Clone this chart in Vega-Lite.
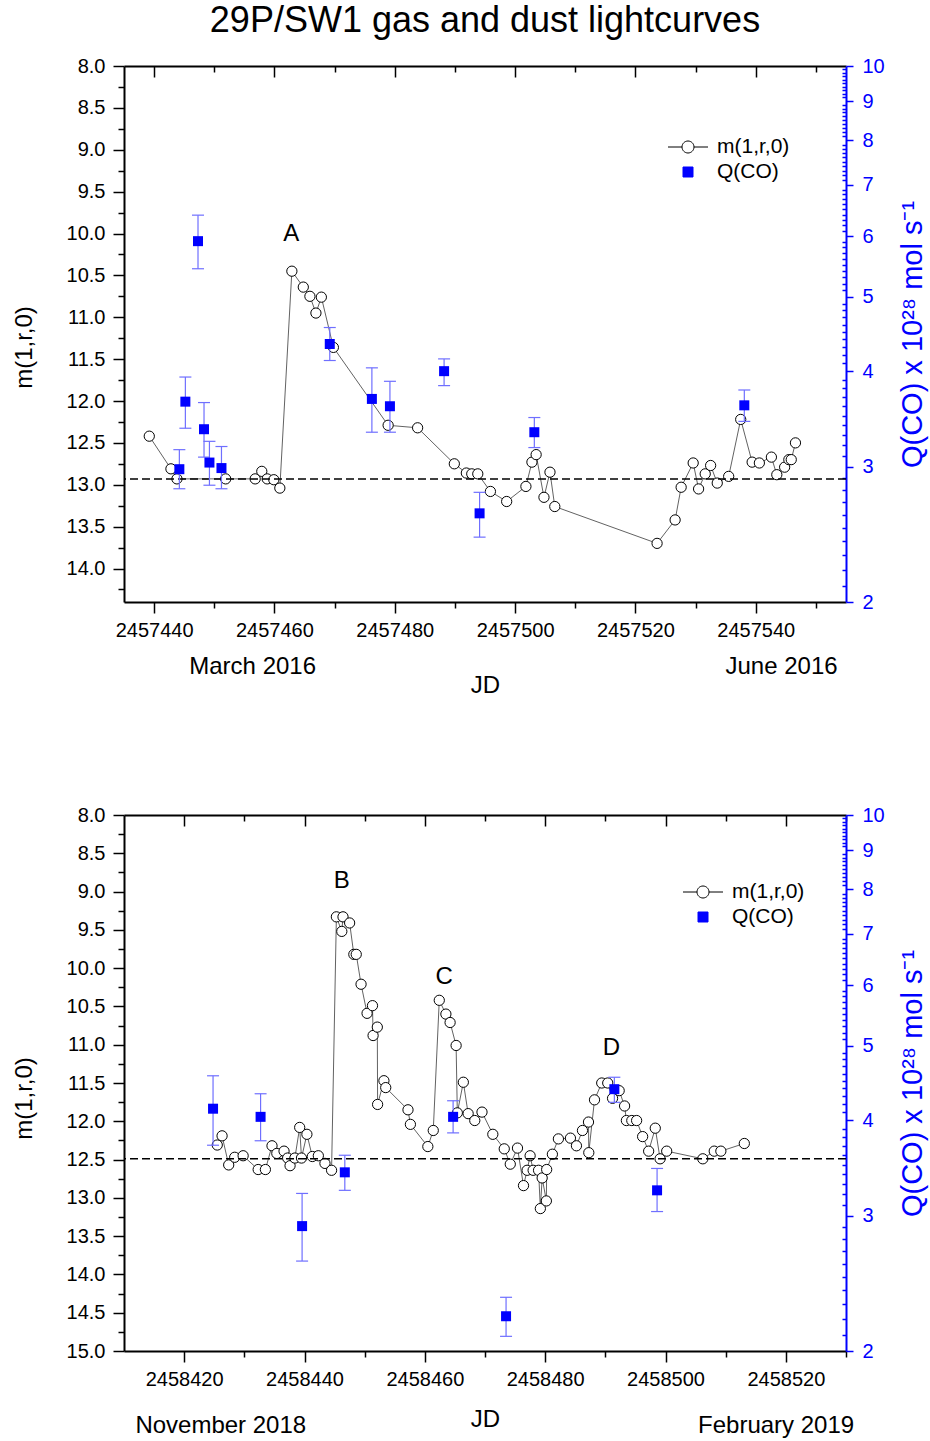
{
  "$schema": "https://vega.github.io/schema/vega-lite/v6.json",
  "padding": {"left": 12, "top": 3, "right": 5, "bottom": 5},
  "title": {"text": "29P/SW1 gas and dust lightcurves", "fontSize": 36, "font": "Liberation Sans", "fontWeight": "normal", "anchor": "middle", "frame": "group", "offset": 16, "color": "black"},
  "datasets": {
    "m1": [
      {"jd": 2457439.2, "m": 12.42}, {"jd": 2457442.8, "m": 12.81}, {"jd": 2457443.8, "m": 12.93}, {"jd": 2457451.9, "m": 12.93},
      {"jd": 2457456.8, "m": 12.93}, {"jd": 2457457.9, "m": 12.84}, {"jd": 2457458.8, "m": 12.93}, {"jd": 2457459.9, "m": 12.94},
      {"jd": 2457460.9, "m": 13.04}, {"jd": 2457462.9, "m": 10.45}, {"jd": 2457464.8, "m": 10.64}, {"jd": 2457465.9, "m": 10.75},
      {"jd": 2457466.9, "m": 10.95}, {"jd": 2457467.8, "m": 10.76}, {"jd": 2457469.8, "m": 11.36}, {"jd": 2457478.9, "m": 12.29},
      {"jd": 2457483.8, "m": 12.32}, {"jd": 2457489.9, "m": 12.75}, {"jd": 2457491.9, "m": 12.86}, {"jd": 2457492.8, "m": 12.87},
      {"jd": 2457493.8, "m": 12.87}, {"jd": 2457495.9, "m": 13.08}, {"jd": 2457498.6, "m": 13.2}, {"jd": 2457501.8, "m": 13.02},
      {"jd": 2457502.8, "m": 12.73}, {"jd": 2457503.5, "m": 12.64}, {"jd": 2457504.8, "m": 13.15}, {"jd": 2457505.8, "m": 12.85},
      {"jd": 2457506.6, "m": 13.26}, {"jd": 2457523.6, "m": 13.7}, {"jd": 2457526.6, "m": 13.42}, {"jd": 2457527.6, "m": 13.03},
      {"jd": 2457529.6, "m": 12.74}, {"jd": 2457530.5, "m": 13.05}, {"jd": 2457531.6, "m": 12.87}, {"jd": 2457532.5, "m": 12.77},
      {"jd": 2457533.6, "m": 12.98}, {"jd": 2457535.5, "m": 12.9}, {"jd": 2457537.5, "m": 12.22}, {"jd": 2457539.4, "m": 12.73},
      {"jd": 2457540.6, "m": 12.74}, {"jd": 2457542.6, "m": 12.67}, {"jd": 2457543.5, "m": 12.88}, {"jd": 2457544.8, "m": 12.79},
      {"jd": 2457545.5, "m": 12.7}, {"jd": 2457545.9, "m": 12.7}, {"jd": 2457546.6, "m": 12.5}
    ],
    "q1": [
      {"jd": 2457444.2, "q": 2.98, "lo": 2.81, "hi": 3.16}, {"jd": 2457445.2, "q": 3.65, "lo": 3.37, "hi": 3.93},
      {"jd": 2457447.3, "q": 5.91, "lo": 5.44, "hi": 6.39}, {"jd": 2457448.3, "q": 3.36, "lo": 3.09, "hi": 3.64},
      {"jd": 2457449.2, "q": 3.04, "lo": 2.84, "hi": 3.24}, {"jd": 2457451.2, "q": 2.99, "lo": 2.81, "hi": 3.19},
      {"jd": 2457469.2, "q": 4.34, "lo": 4.13, "hi": 4.56}, {"jd": 2457476.2, "q": 3.68, "lo": 3.33, "hi": 4.04},
      {"jd": 2457479.2, "q": 3.6, "lo": 3.33, "hi": 3.88}, {"jd": 2457488.2, "q": 4.0, "lo": 3.83, "hi": 4.15},
      {"jd": 2457494.1, "q": 2.61, "lo": 2.43, "hi": 2.78}, {"jd": 2457503.2, "q": 3.33, "lo": 3.18, "hi": 3.48},
      {"jd": 2457538.1, "q": 3.61, "lo": 3.44, "hi": 3.78}
    ],
    "lab1": [{"jd": 2457462.8, "m": 10.0, "label": "A"}],
    "mon1": [{"jd": 2457456.3}, {"jd": 2457544.2}],
    "m2": [
      {"jd": 2458425.5, "m": 12.31}, {"jd": 2458426.3, "m": 12.19}, {"jd": 2458427.4, "m": 12.57}, {"jd": 2458428.4, "m": 12.47},
      {"jd": 2458429.8, "m": 12.45}, {"jd": 2458432.3, "m": 12.63}, {"jd": 2458433.5, "m": 12.63}, {"jd": 2458434.6, "m": 12.32},
      {"jd": 2458435.4, "m": 12.42}, {"jd": 2458436.6, "m": 12.39}, {"jd": 2458437.2, "m": 12.48}, {"jd": 2458437.6, "m": 12.58},
      {"jd": 2458438.4, "m": 12.48}, {"jd": 2458439.2, "m": 12.08}, {"jd": 2458439.5, "m": 12.48}, {"jd": 2458440.4, "m": 12.17},
      {"jd": 2458441.3, "m": 12.46}, {"jd": 2458442.3, "m": 12.45}, {"jd": 2458443.4, "m": 12.55}, {"jd": 2458444.5, "m": 12.64},
      {"jd": 2458445.3, "m": 9.33}, {"jd": 2458446.2, "m": 9.52}, {"jd": 2458446.4, "m": 9.33}, {"jd": 2458447.5, "m": 9.41},
      {"jd": 2458448.2, "m": 9.82}, {"jd": 2458448.6, "m": 9.82}, {"jd": 2458449.4, "m": 10.21}, {"jd": 2458450.4, "m": 10.59},
      {"jd": 2458451.3, "m": 10.49}, {"jd": 2458451.4, "m": 10.88}, {"jd": 2458452.1, "m": 10.77}, {"jd": 2458452.15, "m": 11.78},
      {"jd": 2458453.2, "m": 11.47}, {"jd": 2458453.5, "m": 11.56}, {"jd": 2458457.2, "m": 11.85}, {"jd": 2458457.6, "m": 12.04},
      {"jd": 2458460.5, "m": 12.33}, {"jd": 2458461.4, "m": 12.12}, {"jd": 2458462.4, "m": 10.42}, {"jd": 2458463.5, "m": 10.6},
      {"jd": 2458464.2, "m": 10.71}, {"jd": 2458465.2, "m": 11.01}, {"jd": 2458465.4, "m": 11.89}, {"jd": 2458466.4, "m": 11.49},
      {"jd": 2458467.2, "m": 11.9}, {"jd": 2458468.3, "m": 11.99}, {"jd": 2458469.5, "m": 11.88}, {"jd": 2458471.3, "m": 12.17},
      {"jd": 2458473.2, "m": 12.36}, {"jd": 2458474.2, "m": 12.56}, {"jd": 2458475.4, "m": 12.35}, {"jd": 2458476.4, "m": 12.84},
      {"jd": 2458477.0, "m": 12.64}, {"jd": 2458477.5, "m": 12.45}, {"jd": 2458478.0, "m": 12.64}, {"jd": 2458478.9, "m": 12.64},
      {"jd": 2458479.2, "m": 13.14}, {"jd": 2458479.5, "m": 12.74}, {"jd": 2458480.2, "m": 13.04}, {"jd": 2458480.25, "m": 12.63},
      {"jd": 2458481.2, "m": 12.43}, {"jd": 2458482.2, "m": 12.23}, {"jd": 2458484.2, "m": 12.22}, {"jd": 2458485.2, "m": 12.32},
      {"jd": 2458486.2, "m": 12.12}, {"jd": 2458487.2, "m": 12.01}, {"jd": 2458487.25, "m": 12.41}, {"jd": 2458488.2, "m": 11.72},
      {"jd": 2458489.4, "m": 11.5}, {"jd": 2458490.4, "m": 11.5}, {"jd": 2458491.2, "m": 11.7}, {"jd": 2458492.3, "m": 11.6},
      {"jd": 2458493.2, "m": 11.8}, {"jd": 2458493.5, "m": 11.99}, {"jd": 2458494.4, "m": 11.99}, {"jd": 2458495.2, "m": 11.99},
      {"jd": 2458496.2, "m": 12.2}, {"jd": 2458497.2, "m": 12.39}, {"jd": 2458498.3, "m": 12.09}, {"jd": 2458499.1, "m": 12.49},
      {"jd": 2458500.2, "m": 12.39}, {"jd": 2458506.2, "m": 12.49}, {"jd": 2458508.1, "m": 12.39}, {"jd": 2458509.2, "m": 12.39},
      {"jd": 2458513.1, "m": 12.29}
    ],
    "q2": [
      {"jd": 2458424.8, "q": 4.14, "lo": 3.71, "hi": 4.57}, {"jd": 2458432.7, "q": 4.04, "lo": 3.76, "hi": 4.33},
      {"jd": 2458439.6, "q": 2.91, "lo": 2.62, "hi": 3.21}, {"jd": 2458446.7, "q": 3.42, "lo": 3.24, "hi": 3.6},
      {"jd": 2458464.7, "q": 4.04, "lo": 3.85, "hi": 4.24}, {"jd": 2458473.5, "q": 2.22, "lo": 2.09, "hi": 2.35},
      {"jd": 2458491.5, "q": 4.39, "lo": 4.22, "hi": 4.55}, {"jd": 2458498.6, "q": 3.24, "lo": 3.04, "hi": 3.46}
    ],
    "lab2": [{"jd": 2458446.2, "m": 8.86, "label": "B"}, {"jd": 2458463.2, "m": 10.12, "label": "C"}, {"jd": 2458491.0, "m": 11.04, "label": "D"}],
    "mon2": [{"jd": 2458426}, {"jd": 2458518.3}],
    "leg": [{"s": "m(1,r,0)"}, {"s": "Q(CO)"}]
  },
  "vconcat": [
    {
      "width": 722, "height": 536,
      "resolve": {"scale": {"y": "independent"}, "axis": {"x": "independent", "y": "independent"}},
      "layer": [
        {
          "data": {"name": "m1"},
          "resolve": {"axis": {"x": "independent", "y": "independent"}},
          "layer": [
            {"mark": {"type": "line", "color": "#3a3a3a", "strokeWidth": 0.8},
             "encoding": {
               "x": {"field": "jd", "type": "quantitative", "scale": {"domain": [2457435, 2457555], "nice": false, "zero": false},
                     "axis": {"orient": "bottom", "values": [2457440, 2457460, 2457480, 2457500, 2457520, 2457540],
                              "format": "d", "tickSize": 11, "labelPadding": 7, "labelFlush": false, "labelOverlap": false, "title": "JD", "titlePadding": 33}},
               "y": {"field": "m", "type": "quantitative", "scale": {"domain": [8, 14.4], "reverse": true, "nice": false, "zero": false},
                     "axis": {"orient": "left", "values": [8, 8.5, 9, 9.5, 10, 10.5, 11, 11.5, 12, 12.5, 13, 13.5, 14],
                              "format": ".1f", "tickSize": 11, "labelPadding": 8, "labelFlush": false, "labelOverlap": false,
                              "title": "m(1,r,0)", "titlePadding": 30, "titleY": 281}}}},
            {"mark": {"type": "point", "shape": "circle", "filled": true, "fill": "white", "stroke": "black", "strokeWidth": 1, "size": 105, "opacity": 1},
             "encoding": {"x": {"field": "jd", "type": "quantitative", "axis": null}, "y": {"field": "m", "type": "quantitative", "axis": null}}},
            {"data": {"values": [{}]}, "mark": {"type": "rule", "color": "black", "strokeWidth": 1.5, "strokeDash": [8, 4]},
             "encoding": {"y": {"datum": 12.93, "type": "quantitative", "axis": null}}},
            {"data": {"name": "lab1"}, "mark": {"type": "text", "fontSize": 24, "font": "Liberation Sans", "color": "black"},
             "encoding": {
               "x": {"field": "jd", "type": "quantitative",
                     "axis": {"orient": "bottom", "values": [2457450, 2457470, 2457490, 2457510, 2457530, 2457550], "labels": false, "domain": false, "tickSize": 6, "title": null}},
               "y": {"field": "m", "type": "quantitative",
                     "axis": {"orient": "left", "values": [8.25, 8.75, 9.25, 9.75, 10.25, 10.75, 11.25, 11.75, 12.25, 12.75, 13.25, 13.75, 14.25], "labels": false, "domain": false, "tickSize": 6, "title": null}},
               "text": {"field": "label"}}}
          ]
        },
        {
          "data": {"name": "q1"},
          "resolve": {"axis": {"x": "independent", "y": "independent"}},
          "layer": [
            {"mark": {"type": "rule", "color": "#6f6fff", "strokeWidth": 1.2},
             "encoding": {
               "x": {"field": "jd", "type": "quantitative",
                     "axis": {"orient": "top", "values": [2457440, 2457450, 2457460, 2457470, 2457480, 2457490, 2457500, 2457510, 2457520, 2457530, 2457540, 2457550],
                              "labels": false, "title": null, "tickSize": {"condition": {"test": "datum.value % 20 === 0", "value": -11}, "value": -6}}},
               "y": {"field": "lo", "type": "quantitative", "scale": {"type": "log", "domain": [2, 10], "nice": false},
                     "axis": {"orient": "right", "values": [2, 3, 4, 5, 6, 7, 8, 9, 10], "format": "d", "tickSize": 7,
                              "labelColor": "#0000ff", "tickColor": "#0000ff", "domainColor": "#0000ff", "titleColor": "#0000ff",
                              "labelPadding": 9, "labelFlush": false, "labelOverlap": false,
                              "title": "Q(CO) x 10²⁸ mol s⁻¹", "titleFontSize": 29, "titleAngle": 270, "titleBaseline": "top", "titlePadding": 14}},
               "y2": {"field": "hi"}}},
            {"mark": {"type": "tick", "orient": "horizontal", "color": "#6f6fff", "size": 12, "thickness": 1.2, "opacity": 1},
             "encoding": {"x": {"field": "jd", "type": "quantitative", "axis": null},
                          "y": {"field": "lo", "type": "quantitative",
                                "axis": {"orient": "right", "values": [2.1,2.2,2.3,2.4,2.5,2.6,2.7,2.8,2.9,3.1,3.2,3.3,3.4,3.5,3.6,3.7,3.8,3.9,4.1,4.2,4.3,4.4,4.5,4.6,4.7,4.8,4.9,5.1,5.2,5.3,5.4,5.5,5.6,5.7,5.8,5.9,6.1,6.2,6.3,6.4,6.5,6.6,6.7,6.8,6.9,7.1,7.2,7.3,7.4,7.5,7.6,7.7,7.8,7.9,8.1,8.2,8.3,8.4,8.5,8.6,8.7,8.8,8.9,9.1,9.2,9.3,9.4,9.5,9.6,9.7,9.8,9.9],
                                         "labels": false, "domain": false, "tickSize": -4, "tickColor": "#0000ff", "title": null}}}},
            {"mark": {"type": "tick", "orient": "horizontal", "color": "#6f6fff", "size": 12, "thickness": 1.2, "opacity": 1},
             "encoding": {"x": {"field": "jd", "type": "quantitative", "axis": null}, "y": {"field": "hi", "type": "quantitative", "axis": null}}},
            {"mark": {"type": "square", "color": "#0000ff", "filled": true, "size": 100, "opacity": 1},
             "encoding": {"x": {"field": "jd", "type": "quantitative", "axis": null}, "y": {"field": "q", "type": "quantitative", "axis": null}}}
          ]
        },
        {
          "data": {"name": "mon1"},
          "mark": {"type": "point", "opacity": 0},
          "encoding": {"x": {"field": "jd", "type": "quantitative",
                             "axis": {"orient": "bottom", "values": [2457456.3, 2457544.2], "labelExpr": "datum.value < 2457500 ? 'March 2016' : 'June 2016'",
                                      "domain": false, "ticks": false, "labelFontSize": 24, "labelPadding": 52, "title": null, "labelFlush": false, "labelOverlap": false}}}
        },
        {
          "data": {"name": "leg"},
          "mark": {"type": "point", "opacity": 0, "filled": true},
          "encoding": {
            "shape": {"field": "s", "type": "nominal",
              "scale": {"domain": ["m(1,r,0)", "Q(CO)"], "range": ["M-1.6,0L-0.48,0M0.48,0A0.48,0.48,0,1,1,-0.48,0A0.48,0.48,0,1,1,0.48,0M0.48,0L1.6,0", "M-0.4,-0.4L0.4,-0.4L0.4,0.4L-0.4,0.4Z"]},
              "legend": {"orient": "none", "legendX": 551, "legendY": 68, "title": null, "symbolSize": 625, "labelFontSize": 21, "labelOffset": 16, "rowPadding": 2, "symbolStrokeWidth": 1, "symbolOpacity": 1}},
            "fill": {"field": "s", "type": "nominal", "scale": {"domain": ["m(1,r,0)", "Q(CO)"], "range": ["white", "#0000ff"]},
              "legend": {"orient": "none", "legendX": 551, "legendY": 68, "title": null, "symbolSize": 625, "labelFontSize": 21, "labelOffset": 16, "rowPadding": 2, "symbolStrokeWidth": 1, "symbolOpacity": 1}},
            "stroke": {"field": "s", "type": "nominal", "scale": {"domain": ["m(1,r,0)", "Q(CO)"], "range": ["black", "#0000ff"]},
              "legend": {"orient": "none", "legendX": 551, "legendY": 68, "title": null, "symbolSize": 625, "labelFontSize": 21, "labelOffset": 16, "rowPadding": 2, "symbolStrokeWidth": 1, "symbolOpacity": 1}}
          }
        }
      ]
    },
    {
      "width": 722, "height": 536,
      "resolve": {"scale": {"y": "independent"}, "axis": {"x": "independent", "y": "independent"}},
      "layer": [
        {
          "data": {"name": "m2"},
          "resolve": {"axis": {"x": "independent", "y": "independent"}},
          "layer": [
            {"mark": {"type": "line", "color": "#3a3a3a", "strokeWidth": 0.8},
             "encoding": {
               "x": {"field": "jd", "type": "quantitative", "scale": {"domain": [2458410, 2458530], "nice": false, "zero": false},
                     "axis": {"orient": "bottom", "values": [2458420, 2458440, 2458460, 2458480, 2458500, 2458520],
                              "format": "d", "tickSize": 11, "labelPadding": 7, "labelFlush": false, "labelOverlap": false, "title": "JD", "titlePadding": 18}},
               "y": {"field": "m", "type": "quantitative", "scale": {"domain": [8, 15], "reverse": true, "nice": false, "zero": false},
                     "axis": {"orient": "left", "values": [8, 8.5, 9, 9.5, 10, 10.5, 11, 11.5, 12, 12.5, 13, 13.5, 14, 14.5, 15],
                              "format": ".1f", "tickSize": 11, "labelPadding": 8, "labelFlush": false, "labelOverlap": false,
                              "title": "m(1,r,0)", "titlePadding": 30, "titleY": 283}}}},
            {"mark": {"type": "point", "shape": "circle", "filled": true, "fill": "white", "stroke": "black", "strokeWidth": 1, "size": 105, "opacity": 1},
             "encoding": {"x": {"field": "jd", "type": "quantitative", "axis": null}, "y": {"field": "m", "type": "quantitative", "axis": null}}},
            {"data": {"values": [{}]}, "mark": {"type": "rule", "color": "black", "strokeWidth": 1.5, "strokeDash": [8, 4]},
             "encoding": {"y": {"datum": 12.49, "type": "quantitative", "axis": null}}},
            {"data": {"name": "lab2"}, "mark": {"type": "text", "fontSize": 24, "font": "Liberation Sans", "color": "black"},
             "encoding": {
               "x": {"field": "jd", "type": "quantitative",
                     "axis": {"orient": "bottom", "values": [2458430, 2458450, 2458470, 2458490, 2458510, 2458530], "labels": false, "domain": false, "tickSize": 6, "title": null}},
               "y": {"field": "m", "type": "quantitative",
                     "axis": {"orient": "left", "values": [8.25, 8.75, 9.25, 9.75, 10.25, 10.75, 11.25, 11.75, 12.25, 12.75, 13.25, 13.75, 14.25, 14.75], "labels": false, "domain": false, "tickSize": 6, "title": null}},
               "text": {"field": "label"}}}
          ]
        },
        {
          "data": {"name": "q2"},
          "resolve": {"axis": {"x": "independent", "y": "independent"}},
          "layer": [
            {"mark": {"type": "rule", "color": "#6f6fff", "strokeWidth": 1.2},
             "encoding": {
               "x": {"field": "jd", "type": "quantitative",
                     "axis": {"orient": "top", "values": [2458420, 2458430, 2458440, 2458450, 2458460, 2458470, 2458480, 2458490, 2458500, 2458510, 2458520, 2458530],
                              "labels": false, "title": null, "tickSize": {"condition": {"test": "datum.value % 20 === 0", "value": -11}, "value": -6}}},
               "y": {"field": "lo", "type": "quantitative", "scale": {"type": "log", "domain": [2, 10], "nice": false},
                     "axis": {"orient": "right", "values": [2, 3, 4, 5, 6, 7, 8, 9, 10], "format": "d", "tickSize": 7,
                              "labelColor": "#0000ff", "tickColor": "#0000ff", "domainColor": "#0000ff", "titleColor": "#0000ff",
                              "labelPadding": 9, "labelFlush": false, "labelOverlap": false,
                              "title": "Q(CO) x 10²⁸ mol s⁻¹", "titleFontSize": 29, "titleAngle": 270, "titleBaseline": "top", "titlePadding": 14}},
               "y2": {"field": "hi"}}},
            {"mark": {"type": "tick", "orient": "horizontal", "color": "#6f6fff", "size": 12, "thickness": 1.2, "opacity": 1},
             "encoding": {"x": {"field": "jd", "type": "quantitative", "axis": null},
                          "y": {"field": "lo", "type": "quantitative",
                                "axis": {"orient": "right", "values": [2.1,2.2,2.3,2.4,2.5,2.6,2.7,2.8,2.9,3.1,3.2,3.3,3.4,3.5,3.6,3.7,3.8,3.9,4.1,4.2,4.3,4.4,4.5,4.6,4.7,4.8,4.9,5.1,5.2,5.3,5.4,5.5,5.6,5.7,5.8,5.9,6.1,6.2,6.3,6.4,6.5,6.6,6.7,6.8,6.9,7.1,7.2,7.3,7.4,7.5,7.6,7.7,7.8,7.9,8.1,8.2,8.3,8.4,8.5,8.6,8.7,8.8,8.9,9.1,9.2,9.3,9.4,9.5,9.6,9.7,9.8,9.9],
                                         "labels": false, "domain": false, "tickSize": -4, "tickColor": "#0000ff", "title": null}}}},
            {"mark": {"type": "tick", "orient": "horizontal", "color": "#6f6fff", "size": 12, "thickness": 1.2, "opacity": 1},
             "encoding": {"x": {"field": "jd", "type": "quantitative", "axis": null}, "y": {"field": "hi", "type": "quantitative", "axis": null}}},
            {"mark": {"type": "square", "color": "#0000ff", "filled": true, "size": 100, "opacity": 1},
             "encoding": {"x": {"field": "jd", "type": "quantitative", "axis": null}, "y": {"field": "q", "type": "quantitative", "axis": null}}}
          ]
        },
        {
          "data": {"name": "mon2"},
          "mark": {"type": "point", "opacity": 0},
          "encoding": {"x": {"field": "jd", "type": "quantitative",
                             "axis": {"orient": "bottom", "values": [2458426, 2458518.3], "labelExpr": "datum.value < 2458470 ? 'November 2018' : 'February 2019'",
                                      "domain": false, "ticks": false, "labelFontSize": 24, "labelPadding": 62, "title": null, "labelFlush": false, "labelOverlap": false}}}
        },
        {
          "data": {"name": "leg"},
          "mark": {"type": "point", "opacity": 0, "filled": true},
          "encoding": {
            "shape": {"field": "s", "type": "nominal",
              "scale": {"domain": ["m(1,r,0)", "Q(CO)"], "range": ["M-1.6,0L-0.48,0M0.48,0A0.48,0.48,0,1,1,-0.48,0A0.48,0.48,0,1,1,0.48,0M0.48,0L1.6,0", "M-0.4,-0.4L0.4,-0.4L0.4,0.4L-0.4,0.4Z"]},
              "legend": {"orient": "none", "legendX": 566, "legendY": 64, "title": null, "symbolSize": 625, "labelFontSize": 21, "labelOffset": 16, "rowPadding": 2, "symbolStrokeWidth": 1, "symbolOpacity": 1}},
            "fill": {"field": "s", "type": "nominal", "scale": {"domain": ["m(1,r,0)", "Q(CO)"], "range": ["white", "#0000ff"]},
              "legend": {"orient": "none", "legendX": 566, "legendY": 64, "title": null, "symbolSize": 625, "labelFontSize": 21, "labelOffset": 16, "rowPadding": 2, "symbolStrokeWidth": 1, "symbolOpacity": 1}},
            "stroke": {"field": "s", "type": "nominal", "scale": {"domain": ["m(1,r,0)", "Q(CO)"], "range": ["black", "#0000ff"]},
              "legend": {"orient": "none", "legendX": 566, "legendY": 64, "title": null, "symbolSize": 625, "labelFontSize": 21, "labelOffset": 16, "rowPadding": 2, "symbolStrokeWidth": 1, "symbolOpacity": 1}}
          }
        }
      ]
    }
  ],
  "spacing": 213,
  "bounds": "flush",
  "resolve": {"scale": {"x": "independent", "y": "independent", "shape": "independent", "fill": "independent", "stroke": "independent"}, "legend": {"shape": "independent", "fill": "independent", "stroke": "independent"}},
  "config": {
    "font": "Liberation Sans",
    "view": {"stroke": null},
    "axis": {"grid": false, "labelFont": "Liberation Sans", "titleFont": "Liberation Sans", "labelColor": "black", "titleColor": "black",
             "domainColor": "black", "tickColor": "black", "labelFontSize": 20, "titleFontSize": 24, "titleFontWeight": "normal",
             "domainWidth": 2, "tickWidth": 1.5},
    "legend": {"labelFont": "Liberation Sans", "labelColor": "black"}
  }
}
